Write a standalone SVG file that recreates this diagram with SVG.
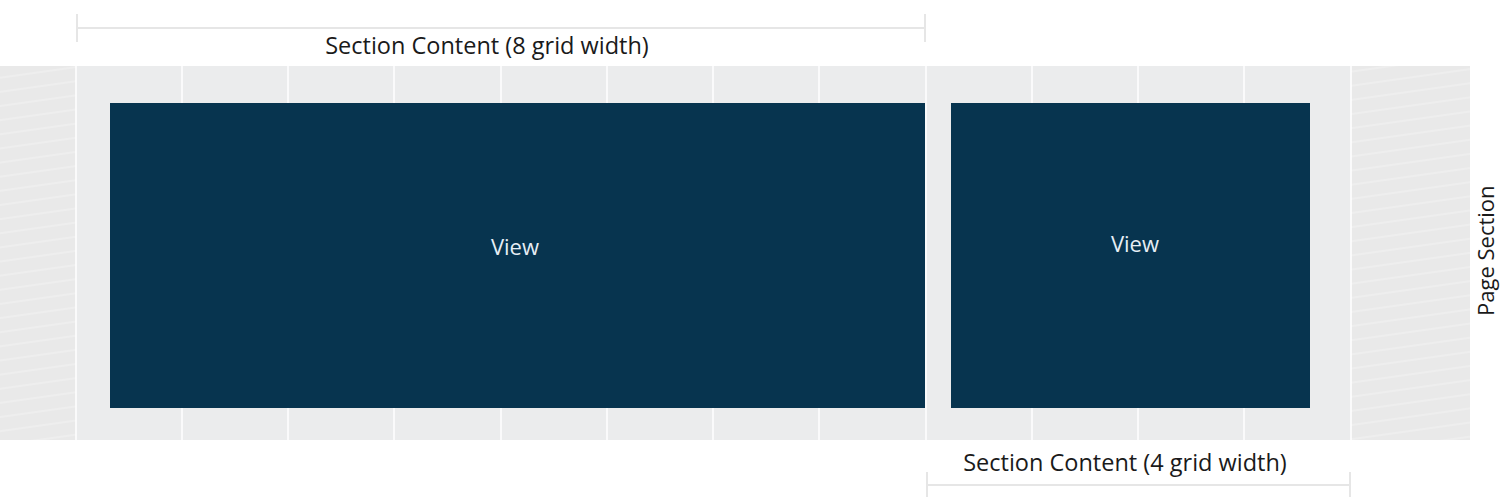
<svg xmlns="http://www.w3.org/2000/svg" width="1500" height="500" viewBox="0 0 1500 500">
<style>
.lbl{font-family:"Open Sans","Liberation Sans",Arial,sans-serif;font-size:23.5px;fill:#1a1a1a}
.side{font-family:"Open Sans","Liberation Sans",Arial,sans-serif;font-size:22px;fill:#1a1a1a}
.view{font-family:"Open Sans","Liberation Sans",Arial,sans-serif;font-size:22px;fill:#e6eef5}
.dim{stroke:#e6e6e6;stroke-width:2;fill:none}
.grid{stroke:#ffffff;stroke-width:1.5}
.box{fill:#07344f}
</style>
<defs>
<pattern id="hatch" width="40" height="14" patternUnits="userSpaceOnUse" patternTransform="rotate(-8)">
<rect width="40" height="14" fill="#e9e9e9"/>
<line x1="0" y1="7" x2="40" y2="7" stroke="#f3f3f3" stroke-width="1.2"/>
</pattern>
</defs>
<rect width="1500" height="500" fill="#ffffff"/>
<g id="page-section">
<rect x="0" y="66" width="76" height="374" fill="url(#hatch)"/>
<rect x="1351" y="66" width="119" height="374" fill="url(#hatch)"/>
<rect x="76" y="66" width="1275" height="374" fill="#ebeced"/>
<text class="side" transform="translate(1494,316) rotate(-90)">Page Section</text>
</g>
<g id="grid">
<line class="grid" x1="76" y1="66" x2="76" y2="440"/>
<line class="grid" x1="182" y1="66" x2="182" y2="440"/>
<line class="grid" x1="288" y1="66" x2="288" y2="440"/>
<line class="grid" x1="394" y1="66" x2="394" y2="440"/>
<line class="grid" x1="501" y1="66" x2="501" y2="440"/>
<line class="grid" x1="607" y1="66" x2="607" y2="440"/>
<line class="grid" x1="713" y1="66" x2="713" y2="440"/>
<line class="grid" x1="819" y1="66" x2="819" y2="440"/>
<line class="grid" x1="926" y1="66" x2="926" y2="440"/>
<line class="grid" x1="1032" y1="66" x2="1032" y2="440"/>
<line class="grid" x1="1138" y1="66" x2="1138" y2="440"/>
<line class="grid" x1="1244" y1="66" x2="1244" y2="440"/>
<line class="grid" x1="1351" y1="66" x2="1351" y2="440"/>
</g>
<g id="view-8">
<rect class="box" x="110" y="103" width="815" height="305"/>
<text class="view" x="515" y="255" text-anchor="middle">View</text>
</g>
<g id="view-4">
<rect class="box" x="951" y="103" width="359" height="305"/>
<text class="view" x="1135" y="252" text-anchor="middle">View</text>
</g>
<g id="connectors">
<path class="dim" d="M77 28 H925 M77 14 V42 M925 14 V42"/>
<path class="dim" d="M927 485 H1350 M927 472 V497 M1350 472 V497"/>
</g>
<g id="dimension-labels">
<text class="lbl" x="487" y="54" text-anchor="middle">Section Content (8 grid width)</text>
<text class="lbl" x="1125" y="471" text-anchor="middle">Section Content (4 grid width)</text>
</g>
</svg>
